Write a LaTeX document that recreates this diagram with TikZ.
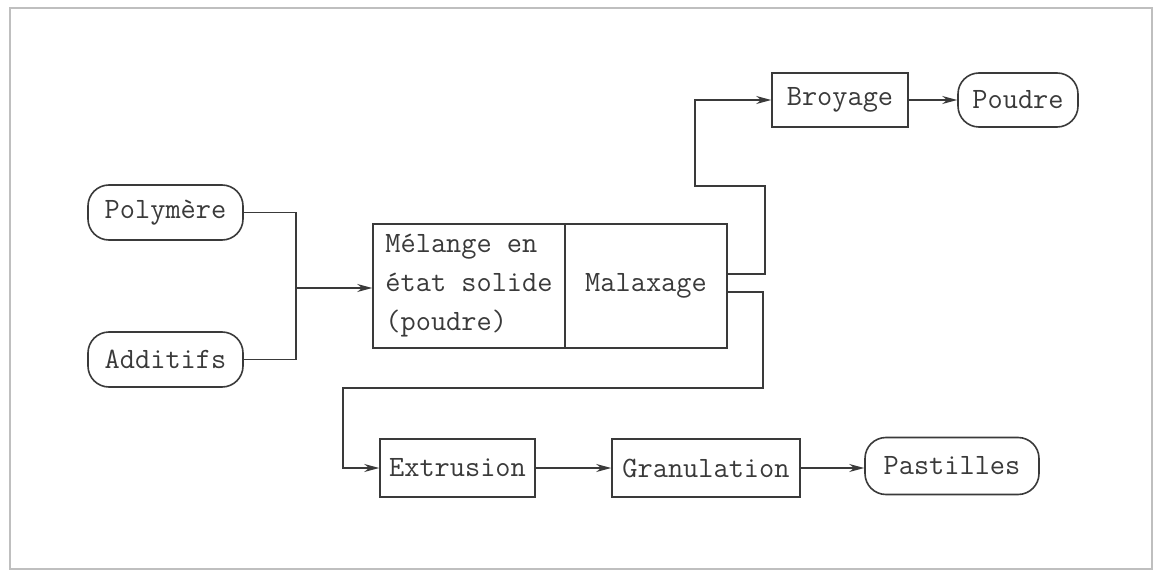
\documentclass[tikz,border=0pt]{standalone}
\usepackage{fontspec}
\usetikzlibrary{arrows.meta,calc}
\definecolor{ink}{HTML}{3A3A3A}
\tikzset{
  every node/.style={font=\ttfamily\fontsize{29.5}{39}\selectfont, text=ink},
  proc/.style={draw=ink, line width=1.6pt, rectangle, inner sep=0pt},
  term/.style={draw=ink, line width=1.6pt, rectangle, rounded corners=21pt, inner sep=0pt},
  conn/.style={draw=ink, line width=1.3pt},
  arr/.style={conn, -{Stealth[length=15pt,width=8pt]}},
}
\begin{document}
\begin{tikzpicture}[x=1pt,y=-1pt]
\useasboundingbox (0,0) rectangle (1157,575);
\fill[white] (0,0) rectangle (1157,575);
\draw[black!25, line width=2pt] (10,8) rectangle (1152,569);

\node[term, minimum width=155pt, minimum height=55pt] (pol) at (165.5,212.5) {Polymère};
\node[term, minimum width=155pt, minimum height=55pt] (add) at (165.5,359.5) {Additifs};
\node[proc, minimum width=192pt, minimum height=124pt, align=left] (mel) at (469,286) {Mélange en\\état solide\\(poudre)};
\node[proc, minimum width=162pt, minimum height=124pt] (mal) at (646,286) {Malaxage};
\node[proc, minimum width=136pt, minimum height=54pt] (broy) at (840,100) {Broyage};
\node[term, minimum width=120pt, minimum height=54pt] (pou) at (1018,100) {Poudre};
\node[proc, minimum width=155pt, minimum height=58pt] (ext) at (457.5,468) {Extrusion};
\node[proc, minimum width=188pt, minimum height=58pt] (gra) at (706,468) {Granulation};
\node[term, minimum width=174pt, minimum height=57pt] (pas) at (952,466) {Pastilles};

\coordinate (j) at (296,288);
\coordinate (o1) at ([yshift=12pt]mal.east);
\coordinate (c1) at (765,186);
\coordinate (c2) at (695,186);
\coordinate (o2) at ([yshift=-6pt]mal.east);
\coordinate (c3) at (763,388);
\coordinate (c4) at (343,388);

\draw[conn] (pol.east) -| (j);
\draw[conn] (add.east) -| (j);
\draw[arr] (j) -- (j -| mel.west);
\draw[arr] (o1) -| (c1) -- (c2) |- (broy.west);
\draw[arr] (broy.east) -- (pou.west);
\draw[arr] (o2) -| (c3) -- (c4) |- (ext.west);
\draw[arr] (ext.east) -- (gra.west);
\draw[arr] (gra.east) -- (gra.east -| pas.west);
\end{tikzpicture}
\end{document}
